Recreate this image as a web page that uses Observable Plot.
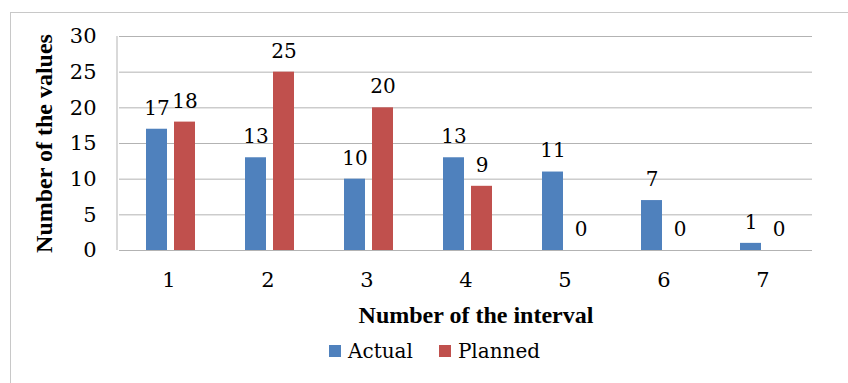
<!DOCTYPE html>
<html>
<head>
<meta charset="utf-8">
<script src="https://cdn.jsdelivr.net/npm/d3@7"></script>
<script src="https://cdn.jsdelivr.net/npm/@observablehq/plot@0.6"></script>
<style>
  html, body { margin: 0; padding: 0; background: #fff; overflow: hidden; }
  body { width: 848px; height: 383px; position: relative; font-family: "DejaVu Serif", serif; }
  #border { position: absolute; left: 10px; top: 12px; width: 900px; height: 420px; border-left: 1px solid #c8c8c8; border-top: 1px solid #c8c8c8; }
  #chart { position: absolute; left: 0; top: 0; }
  #legend { position: absolute; left: 329px; top: 339px; display: flex; align-items: center; font-size: 20px; color: #000; }
  .item { display: flex; align-items: center; margin-right: 26px; }
  .swatch { width: 12px; height: 12px; margin-right: 7px; }
  #chart svg text { font-family: "DejaVu Serif", serif; }
  g[aria-label="y-axis tick label"] text, g[aria-label="fx-axis tick label"] text { font-size: 21px; }
  g[aria-label="y-axis label"] text, g[aria-label="fx-axis label"] text { font-weight: bold; font-size: 24px; font-family: "Liberation Serif", "DejaVu Serif", serif !important; }
  g[aria-label="fx-axis label"] { translate: 10px 0px; }
</style>
</head>
<body>
<div id="border"></div>
<div id="chart"></div>
<div id="legend"></div>
<script>
const categories = ["1", "2", "3", "4", "5", "6", "7"];
const actual = [17, 13, 10, 13, 11, 7, 1];
const planned = [18, 25, 20, 9, 0, 0, 0];
const seriesNames = ["Actual", "Planned"];
const seriesColors = ["#4f81bd", "#c0504d"];
const yTicks = [0, 5, 10, 15, 20, 25, 30];
const xTitle = "Number of the interval";
const yTitle = "Number of the values";

const data = categories.flatMap((c, i) => [
  {interval: c, series: seriesNames[0], value: actual[i]},
  {interval: c, series: seriesNames[1], value: planned[i]}
]);

const marginLeft = 117;
const chart = Plot.plot({
  width: 848,
  height: 335,
  marginTop: 36,
  marginLeft,
  marginRight: 35,
  marginBottom: 85,
  style: {fontFamily: '"DejaVu Serif", serif', fontSize: "21px", color: "#000", background: "transparent", overflow: "visible"},
  fx: {domain: categories, padding: 0, tickSize: 0, tickPadding: 22, label: xTitle, labelAnchor: "center", labelOffset: 72, labelArrow: false},
  x: {domain: seriesNames, axis: null, paddingInner: 0.24, paddingOuter: 0.84, align: 0.55},
  y: {domain: [0, 30], ticks: yTicks, tickSize: 0, tickPadding: 23, label: yTitle, labelAnchor: "center", labelOffset: 85, labelArrow: false},
  color: {domain: seriesNames, range: seriesColors},
  marks: [
    Plot.ruleY(yTicks, {stroke: "#b3b3b3", strokeWidth: 1}),
    Plot.barY(data, {fx: "interval", x: "series", y: "value", fill: "series"}),
    Plot.text(data, {fx: "interval", x: "series", y: "value", text: d => String(d.value), dy: -21, fontSize: 20, fill: "#000"})
  ]
});
document.getElementById("chart").appendChild(chart);

// left edge line of plot area, positioned with the plot's y scale
const ys = chart.scale("y");
d3.select(chart).append("line")
  .attr("x1", marginLeft).attr("x2", marginLeft)
  .attr("y1", ys.apply(ys.domain[0])).attr("y2", ys.apply(ys.domain[1]))
  .attr("stroke", "#b3b3b3").attr("stroke-width", 1);

const legend = document.getElementById("legend");
seriesNames.forEach((name, i) => {
  const item = document.createElement("div");
  item.className = "item";
  const sw = document.createElement("div");
  sw.className = "swatch";
  sw.style.background = seriesColors[i];
  const label = document.createElement("span");
  label.textContent = name;
  item.appendChild(sw);
  item.appendChild(label);
  legend.appendChild(item);
});
</script>
</body>
</html>
